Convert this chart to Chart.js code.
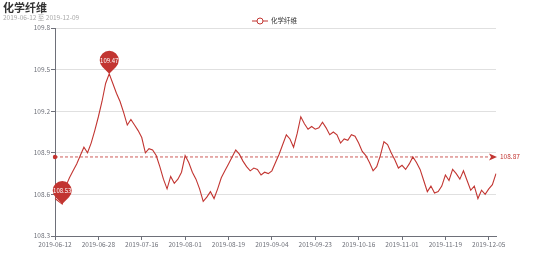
<!DOCTYPE html>
<html>
<head>
<meta charset="utf-8">
<script src="https://cdn.jsdelivr.net/npm/chart.js@4"></script>
<style>
  html, body { margin: 0; padding: 0; background: #fff; }
  #wrap { width: 554px; height: 265px; }
</style>
</head>
<body>
<div id="wrap"><canvas id="chart" width="554" height="265"></canvas></div>
<script>
/* ─── DATA ─────────────────────────────────────────────── */
const seriesName = '化学纤维';
const titleText = '化学纤维';
const subText = '2019-06-12 至 2019-12-09';

const dates = [
  '2019-06-12','2019-06-13','2019-06-14','2019-06-17','2019-06-18','2019-06-19','2019-06-20','2019-06-21',
  '2019-06-24','2019-06-25','2019-06-26','2019-06-27','2019-06-28',
  '2019-07-01','2019-07-02','2019-07-03','2019-07-04','2019-07-05','2019-07-08','2019-07-09','2019-07-10',
  '2019-07-11','2019-07-12','2019-07-15','2019-07-16','2019-07-17','2019-07-18','2019-07-19','2019-07-22',
  '2019-07-23','2019-07-24','2019-07-25','2019-07-26','2019-07-29','2019-07-30','2019-07-31',
  '2019-08-01','2019-08-02','2019-08-05','2019-08-06','2019-08-07','2019-08-08','2019-08-09','2019-08-12',
  '2019-08-13','2019-08-14','2019-08-15','2019-08-16','2019-08-19','2019-08-20','2019-08-21','2019-08-22',
  '2019-08-23','2019-08-26','2019-08-27','2019-08-28','2019-08-29','2019-08-30',
  '2019-09-02','2019-09-03','2019-09-04','2019-09-05','2019-09-06','2019-09-09','2019-09-10','2019-09-11',
  '2019-09-12','2019-09-16','2019-09-17','2019-09-18','2019-09-19','2019-09-20','2019-09-23','2019-09-24',
  '2019-09-25','2019-09-26','2019-09-27','2019-09-30',
  '2019-10-08','2019-10-09','2019-10-10','2019-10-11','2019-10-14','2019-10-15','2019-10-16','2019-10-17',
  '2019-10-18','2019-10-21','2019-10-22','2019-10-23','2019-10-24','2019-10-25','2019-10-28','2019-10-29',
  '2019-10-30','2019-10-31',
  '2019-11-01','2019-11-04','2019-11-05','2019-11-06','2019-11-07','2019-11-08','2019-11-11','2019-11-12',
  '2019-11-13','2019-11-14','2019-11-15','2019-11-18','2019-11-19','2019-11-20','2019-11-21','2019-11-22',
  '2019-11-25','2019-11-26','2019-11-27','2019-11-28','2019-11-29',
  '2019-12-02','2019-12-03','2019-12-04','2019-12-05','2019-12-06','2019-12-09'
];

const values = [
  108.57, 108.55, 108.53, 108.66, 108.72, 108.77, 108.82, 108.88, 108.94, 108.90,
  108.97, 109.06, 109.16, 109.27, 109.40, 109.47, 109.40, 109.33, 109.27, 109.19,
  109.10, 109.14, 109.10, 109.06, 109.01, 108.90, 108.93, 108.92, 108.88, 108.80,
  108.71, 108.64, 108.73, 108.68, 108.71, 108.76, 108.88, 108.83, 108.76, 108.71,
  108.64, 108.55, 108.58, 108.62, 108.57, 108.64, 108.72, 108.77, 108.82, 108.87,
  108.92, 108.89, 108.84, 108.80, 108.77, 108.79, 108.78, 108.74, 108.76, 108.75,
  108.77, 108.83, 108.89, 108.96, 109.03, 109.00, 108.94, 109.04, 109.16, 109.11,
  109.07, 109.09, 109.07, 109.08, 109.12, 109.08, 109.03, 109.05, 109.03, 108.97,
  109.00, 108.99, 109.03, 109.02, 108.97, 108.91, 108.88, 108.83, 108.77, 108.80,
  108.88, 108.98, 108.96, 108.90, 108.85, 108.79, 108.81, 108.78, 108.82, 108.87,
  108.83, 108.78, 108.70, 108.62, 108.66, 108.61, 108.62, 108.66, 108.74, 108.70,
  108.78, 108.75, 108.71, 108.77, 108.70, 108.63, 108.66, 108.57, 108.63, 108.60,
  108.64, 108.67, 108.75
];

const yTicks = [108.3, 108.6, 108.9, 109.2, 109.5, 109.8];
const avgValue = 108.87;
const labelEvery = 12;

/* ─── STYLE ────────────────────────────────────────────── */
const RED = '#c23531';
const AXIS = '#6E7079';
const FONT = "'Noto Sans CJK SC', 'Noto Sans', sans-serif";

/* ─── DECORATION PLUGIN: title, legend, markLine, markPoints ─ */
const decor = {
  id: 'decor',
  beforeDraw(chart) {
    const ctx = chart.ctx;
    ctx.save();
    ctx.fillStyle = '#fff';
    ctx.fillRect(0, 0, chart.width, chart.height);
    ctx.restore();
  },
  afterDatasetsDraw(chart) {
    const ctx = chart.ctx;
    const area = chart.chartArea;
    const xs = chart.scales.x, ys = chart.scales.y;

    // title + subtitle
    ctx.save();
    ctx.textBaseline = 'top';
    ctx.textAlign = 'left';
    ctx.fillStyle = '#333';
    ctx.font = 'bold 11px ' + FONT;
    ctx.fillText(titleText, 3, 2);
    ctx.fillStyle = '#aaa';
    ctx.font = '6.5px ' + FONT;
    ctx.fillText(subText, 3, 14);

    // legend
    const lx = 260, ly = 21;
    ctx.strokeStyle = RED;
    ctx.lineWidth = 1;
    ctx.beginPath();
    ctx.moveTo(lx - 8, ly); ctx.lineTo(lx + 8, ly);
    ctx.stroke();
    ctx.beginPath();
    ctx.arc(lx, ly, 3, 0, Math.PI * 2);
    ctx.fillStyle = '#fff';
    ctx.fill();
    ctx.stroke();
    ctx.fillStyle = '#333';
    ctx.font = '6.5px ' + FONT;
    ctx.textBaseline = 'middle';
    ctx.fillText(seriesName, lx + 11, ly);

    // average markLine
    const yAvg = ys.getPixelForValue(avgValue);
    ctx.setLineDash([3, 2]);
    ctx.strokeStyle = RED;
    ctx.globalAlpha = 0.8;
    ctx.beginPath();
    ctx.moveTo(area.left, yAvg);
    ctx.lineTo(area.right - 6, yAvg);
    ctx.stroke();
    ctx.setLineDash([]);
    ctx.globalAlpha = 1;
    ctx.fillStyle = RED;
    ctx.beginPath();
    ctx.arc(area.left, yAvg, 2.2, 0, Math.PI * 2);
    ctx.fill();
    ctx.beginPath();
    ctx.moveTo(area.right + 1, yAvg);
    ctx.lineTo(area.right - 7, yAvg - 3.5);
    ctx.lineTo(area.right - 5, yAvg);
    ctx.lineTo(area.right - 7, yAvg + 3.5);
    ctx.closePath();
    ctx.fill();
    ctx.font = '6.5px ' + FONT;
    ctx.textAlign = 'left';
    ctx.textBaseline = 'middle';
    ctx.fillText(avgValue.toFixed(2), area.right + 4, yAvg);

    // max / min pins
    let iMax = 0, iMin = 0;
    values.forEach((v, i) => {
      if (v > values[iMax]) iMax = i;
      if (v < values[iMin]) iMin = i;
    });
    [iMax, iMin].forEach(i => {
      const px = xs.getPixelForValue(i);
      const py = ys.getPixelForValue(values[i]);
      const r = 9.5, d = 13.5;
      const cy = py - d;
      const a = Math.acos(r / d);
      ctx.fillStyle = RED;
      ctx.beginPath();
      ctx.moveTo(px, py);
      ctx.arc(px, cy, r, Math.PI / 2 + a, Math.PI / 2 - a + Math.PI * 2);
      ctx.closePath();
      ctx.fill();
      ctx.fillStyle = '#fff';
      ctx.font = '6px ' + FONT;
      ctx.textAlign = 'center';
      ctx.textBaseline = 'middle';
      ctx.fillText(values[i].toFixed(2), px, cy);
    });
    ctx.restore();
  }
};

/* ─── CHART ────────────────────────────────────────────── */
new Chart(document.getElementById('chart'), {
  type: 'line',
  data: {
    labels: dates,
    datasets: [{
      label: seriesName,
      data: values,
      borderColor: RED,
      backgroundColor: RED,
      borderWidth: 1.1,
      pointRadius: 0,
      tension: 0,
      fill: false
    }]
  },
  options: {
    responsive: false,
    devicePixelRatio: 1,
    animation: false,
    layout: { padding: { left: 0, right: 58, top: 28, bottom: 0 } },
    plugins: {
      legend: { display: false },
      title: { display: false },
      tooltip: { enabled: false }
    },
    scales: {
      x: {
        type: 'category',
        offset: false,
        grid: { display: true, drawOnChartArea: false, tickLength: 4, color: AXIS },
        border: { color: AXIS },
        ticks: {
          autoSkip: false,
          maxRotation: 0,
          padding: 1,
          color: AXIS,
          font: { family: FONT, size: 6.5 },
          callback: (v, i) => (i % labelEvery === 0 ? dates[i] : null)
        },
        afterFit: s => { s.height = 29; }
      },
      y: {
        min: yTicks[0],
        max: yTicks[yTicks.length - 1],
        afterBuildTicks: s => { s.ticks = yTicks.map(v => ({ value: v })); },
        grid: { color: '#e0e0e0', tickColor: AXIS, tickLength: 4 },
        border: { color: AXIS },
        ticks: {
          padding: 1,
          color: AXIS,
          font: { family: FONT, size: 6.5 },
          callback: v => Number(v).toFixed(1)
        },
        afterFit: s => { s.width = 55; }
      }
    }
  },
  plugins: [decor]
});
</script>
</body>
</html>
